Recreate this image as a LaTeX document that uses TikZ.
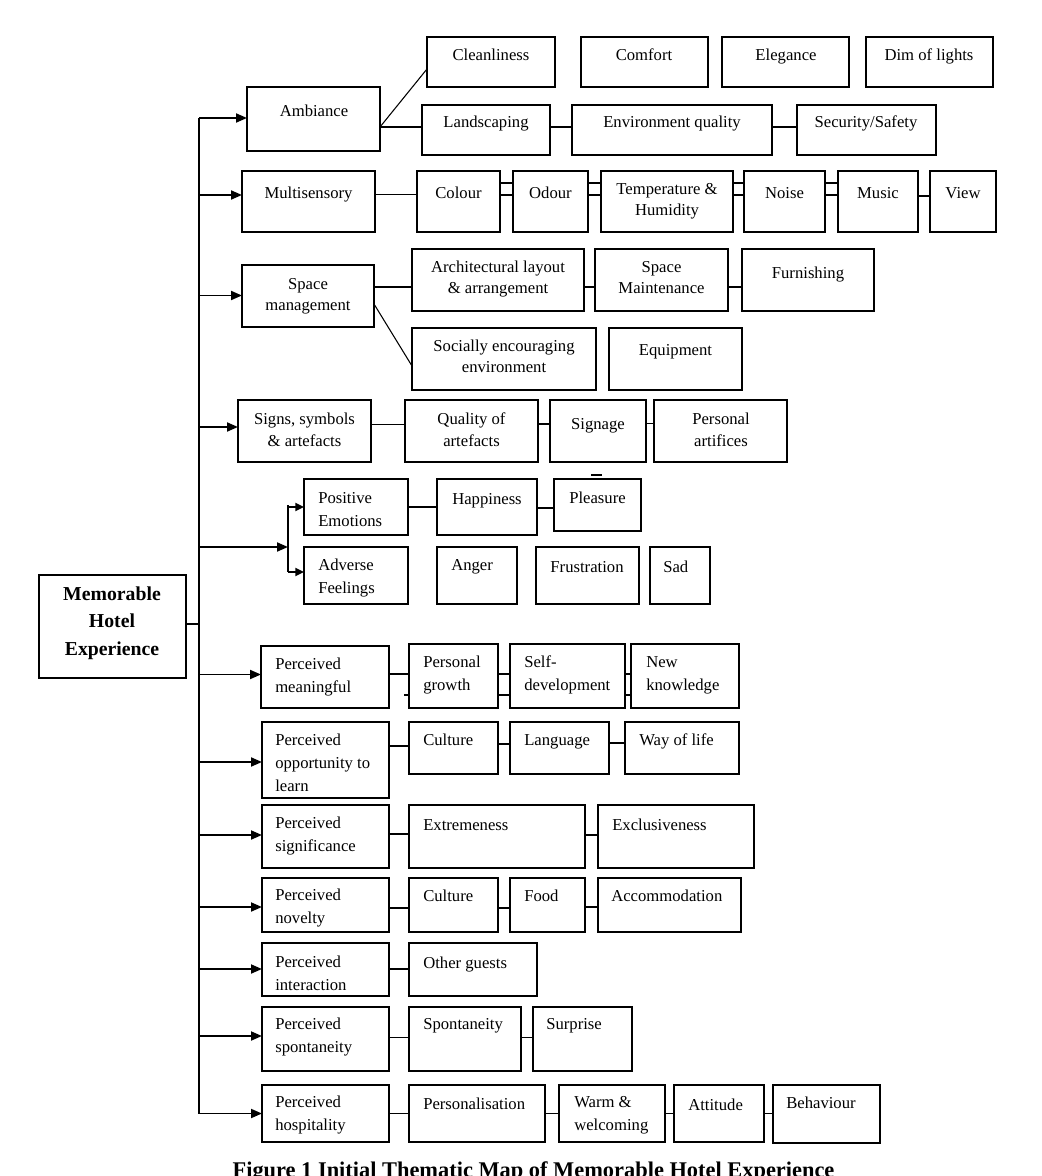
\documentclass[tikz,border=0pt]{standalone}
\usepackage{fontspec}
\setmainfont{Liberation Serif}
\usetikzlibrary{arrows.meta,fit}
\newcommand{\bx}[5]{\node[box, fit={(#2,#3) (#4,#5)}] (#1) {};}
\newcommand{\fsz}{\fontsize{12.5}{16}\selectfont}
\newcommand{\fsl}{\fontsize{12.5}{17.2}\selectfont}
\begin{document}
\begin{tikzpicture}[x=0.75pt,y=-0.75pt,
  box/.style={draw, line width=0.8pt, inner sep=0pt, outer sep=0pt},
  tc/.style={font=\fsz, inner sep=0pt, anchor=base, align=center},
  tl/.style={font=\fsl, inner sep=0pt, anchor=base west, align=left},
  conn/.style={line width=0.8pt},
  connb/.style={line width=1.4pt},
  trunk/.style={line width=1.4pt},
  arr/.style={line width=1.4pt, -{Triangle[length=8.25pt,width=6.75pt]}},
  arrs/.style={line width=1.4pt, -{Triangle[length=6.5pt,width=6pt]}}]
\fill[white] (0,0) rectangle (1041,1176);
\useasboundingbox (0,0) rectangle (1041,1176);

% ---------- boxes ----------
\bx{mhe}{39}{575}{186}{678}
\bx{amb}{247}{87}{380}{151}
\bx{clean}{427}{37}{555}{87}
\bx{comfort}{581}{37}{708}{87}
\bx{eleg}{722}{37}{849}{87}
\bx{dim}{866}{37}{993}{87}
\bx{land}{422}{105}{550}{155}
\bx{env}{572}{105}{772}{155}
\bx{sec}{797}{105}{936}{155}

\bx{multi}{242}{171}{375}{232}
\bx{colour}{417}{171}{500}{232}
\bx{odour}{513}{171}{588}{232}
\bx{temp}{601}{171}{733}{232}
\bx{noise}{744}{171}{825}{232}
\bx{music}{838}{171}{918}{232}
\bx{view}{930}{171}{996}{232}

\bx{space}{242}{265}{374}{327}
\bx{arch}{412}{249}{584}{311}
\bx{smaint}{595}{249}{728}{311}
\bx{furn}{742}{249}{874}{311}
\bx{social}{412}{328}{596}{390}
\bx{equip}{609}{328}{742}{390}

\bx{signs}{238}{400}{371}{462}
\bx{quality}{405}{400}{538}{462}
\bx{signage}{550}{400}{646}{462}
\bx{partif}{654}{400}{787}{462}

\bx{posemo}{304}{479}{408}{535}
\bx{adverse}{304}{547}{408}{604}
\bx{happy}{437}{479}{537}{535}
\bx{pleas}{554}{479}{641}{531}
\bx{anger}{437}{547}{517}{604}
\bx{frust}{536}{547}{639}{604}
\bx{sad}{650}{547}{710}{604}

\bx{pmean}{261}{646}{389}{708}
\bx{pgrowth}{409}{644}{498}{708}
\bx{selfdev}{510}{644}{625}{708}
\bx{newk}{631}{644}{739}{708}

\bx{popp}{262}{722}{389}{798}
\bx{cultA}{409}{722}{498}{774}
\bx{lang}{510}{722}{609}{774}
\bx{way}{625}{722}{739}{774}

\bx{psig}{262}{805}{389}{868}
\bx{extr}{409}{805}{585}{868}
\bx{excl}{598}{805}{754}{868}

\bx{pnov}{262}{878}{389}{932}
\bx{cultB}{409}{878}{498}{932}
\bx{food}{510}{878}{585}{932}
\bx{accom}{598}{878}{741}{932}

\bx{pint}{262}{943}{389}{996}
\bx{other}{409}{943}{537}{996}

\bx{pspon}{262}{1007}{389}{1071}
\bx{spont}{409}{1007}{521}{1071}
\bx{surp}{533}{1007}{632}{1071}

\bx{phosp}{262}{1085}{389}{1142}
\bx{pers}{409}{1085}{545}{1142}
\bx{warm}{559}{1085}{665}{1142}
\bx{att}{674}{1085}{764}{1142}
\bx{beh}{773}{1085}{880}{1143}

% ---------- texts (base = baseline of the last line) ----------
\node[font=\bfseries\fontsize{14.8}{20.6}\selectfont, inner sep=0pt, anchor=base, align=center] (tmhe) at (112,655) {Memorable\\Hotel\\Experience};
\node[tc] (tamb) at (314,117) {Ambiance};
\node[tc] (tclean) at (491,61) {Cleanliness};
\node[tc] (tcomfort) at (644,61) {Comfort};
\node[tc] (telev) at (786,61) {Elegance};
\node[tc] (tdim) at (929,61) {Dim of lights};
\node[tc] (tland) at (486,128) {Landscaping};
\node[tc] (tenv) at (672,128) {Environment quality};
\node[tc] (tsec) at (866,128) {Security/Safety};

\node[tc] (tmulti) at (308.5,199) {Multisensory};
\node[tc] (tcolour) at (458.5,199) {Colour};
\node[tc] (todour) at (550.5,199) {Odour};
\node[tc] (ttemp) at (667,216) {Temperature \&\\Humidity};
\node[tc] (tnoise) at (784.5,199) {Noise};
\node[tc] (tmusic) at (878,199) {Music};
\node[tc] (tview) at (963,199) {View};

\node[tc] (tspace) at (308,311) {Space\\management};
\node[tc] (tarch) at (498,294) {Architectural layout\\\& arrangement};
\node[tc] (tsmaint) at (661.5,294) {Space\\Maintenance};
\node[tc] (tfurn) at (808,279) {Furnishing};
\node[tc] (tsocial) at (504,373) {Socially encouraging\\environment};
\node[tc] (tequip) at (675.5,356) {Equipment};

\node[tc] (tsigns) at (304.5,446) {Signs, symbols\\\& artefacts};
\node[tc] (tquality) at (471.5,446) {Quality of\\artefacts};
\node[tc] (tsignage) at (598,429) {Signage};
\node[tc] (tpartif) at (721,446) {Personal\\artifices};

\node[tl] (tposemo) at (318,526) {Positive\\Emotions};
\node[tl] (tadverse) at (318,593) {Adverse\\Feelings};
\node[tc] (thappy) at (487,504) {Happiness};
\node[tc] (tpleas) at (597.5,503) {Pleasure};
\node[tl] (tanger) at (451,570) {Anger};
\node[tc] (tfrust) at (587,572) {Frustration};
\node[tl] (tsad) at (663,572) {Sad};

\node[tl] (tpmean) at (275,692) {Perceived\\meaningful};
\node[tl] (tpgrowth) at (423,690) {Personal\\growth};
\node[tl] (tselfdev) at (524,690) {Self-\\development};
\node[tl] (tnewk) at (646,690) {New\\knowledge};

\node[tl] (tpopp) at (275,791) {Perceived\\opportunity to\\learn};
\node[tl] (tcultA) at (423,745) {Culture};
\node[tl] (tlang) at (524,745) {Language};
\node[tl] (tway) at (639,745) {Way of life};

\node[tl] (tpsig) at (275,851) {Perceived\\significance};
\node[tl] (textr) at (423,830) {Extremeness};
\node[tl] (texcl) at (612,830) {Exclusiveness};

\node[tl] (tpnov) at (275,923) {Perceived\\novelty};
\node[tl] (tcultB) at (423,901) {Culture};
\node[tl] (tfood) at (524,901) {Food};
\node[tl] (taccom) at (611,901) {Accommodation};

\node[tl] (tpint) at (275,990) {Perceived\\interaction};
\node[tl] (tother) at (423,968) {Other guests};

\node[tl] (tpspon) at (275,1052) {Perceived\\spontaneity};
\node[tl] (tspont) at (423,1029) {Spontaneity};
\node[tl] (tsurp) at (546,1029) {Surprise};

\node[tl] (tphosp) at (275,1130) {Perceived\\hospitality};
\node[tl] (tpers) at (423,1109) {Personalisation};
\node[tl] (twarm) at (574,1130) {Warm \&\\welcoming};
\node[tl] (tatt) at (688,1110) {Attitude};
\node[tl] (tbeh) at (786,1108) {Behaviour};

% caption (cut by the page edge, as in the reference)
\node[font=\bfseries\fontsize{16.8}{20}\selectfont, inner sep=0pt, anchor=base] (caption) at (533.5,1177) {Figure 1 Initial Thematic Map of Memorable Hotel Experience};

% ---------- trunk and arrows ----------
\coordinate (trunktop) at (199,118);
\coordinate (trunkbot) at (199,1113.5);
\draw[trunk] (trunktop) -- (trunkbot);
\draw[conn] (mhe.east|-0,624) -- (trunktop|-0,624);
\draw[arr] (trunktop) -- (amb.west|-trunktop);
\draw[arr] (trunktop|-0,195) -- (multi.west|-0,195);
\draw[arr] (trunktop|-0,295.5) -- (space.west|-0,295.5);
\draw[arr] (trunktop|-0,427) -- (signs.west|-0,427);
\coordinate (ebartop) at (288,505);
\coordinate (ebarbot) at (288,572);
\draw[trunk] (ebartop) -- (ebarbot);
\draw[arr] (trunktop|-0,547) -- (ebartop|-0,547);
\draw[arrs] (ebartop|-0,507) -- (posemo.west|-0,507);
\draw[arrs] (ebartop|-0,572) -- (adverse.west|-0,572);
\draw[arr] (trunktop|-0,674.5) -- (pmean.west|-0,674.5);
\draw[arr] (trunktop|-0,762) -- (popp.west|-0,762);
\draw[arr] (trunktop|-0,835) -- (psig.west|-0,835);
\draw[arr] (trunktop|-0,907) -- (pnov.west|-0,907);
\draw[arr] (trunktop|-0,969) -- (pint.west|-0,969);
\draw[arr] (trunktop|-0,1036) -- (pspon.west|-0,1036);
\draw[arr] (trunkbot) -- (phosp.west|-trunkbot);

% ---------- connectors ----------
\draw[conn] (amb.east|-0,127) -- (clean.west|-0,69);
\draw[connb] (amb.east|-0,127) -- (land.west|-0,127);
\draw[connb] (land.east|-0,127) -- (env.west|-0,127);
\draw[connb] (env.east|-0,127) -- (sec.west|-0,127);

\draw[conn] (multi.east|-0,194.5) -- (colour.west|-0,194.5);
\foreach \a/\b in {colour/odour, odour/temp, temp/noise, noise/music}{
  \draw[connb] (\a.east|-0,183) -- (\b.west|-0,183);
  \draw[conn] (\a.east|-0,195) -- (\b.west|-0,195);
}
\draw[conn] (music.east|-0,196) -- (view.west|-0,196);

\draw[connb] (space.east|-0,287) -- (arch.west|-0,287);
\draw[connb] (arch.east|-0,287) -- (smaint.west|-0,287);
\draw[connb] (smaint.east|-0,287) -- (furn.west|-0,287);
\draw[conn] (space.east|-0,304) -- (social.west|-0,366);

\draw[conn] (signs.east|-0,424.5) -- (quality.west|-0,424.5);
\draw[conn] (quality.east|-0,424) -- (signage.west|-0,424);
\draw[conn] (signage.east|-0,423.5) -- (partif.west|-0,423.5);
\draw[line width=1.6pt] (591,475) -- (602,475);

\draw[conn] (posemo.east|-0,507) -- (happy.west|-0,507);
\draw[conn] (happy.east|-0,508) -- (pleas.west|-0,508);

\draw[connb] (pmean.east|-0,674) -- (pgrowth.west|-0,674);
\draw[connb] (pgrowth.east|-0,674) -- (selfdev.west|-0,674);
\draw[conn] (pgrowth.east|-0,695) -- (selfdev.west|-0,695);
\draw[connb] (selfdev.east|-0,674) -- (newk.west|-0,674);
\draw[conn] (selfdev.east|-0,695) -- (newk.west|-0,695);
\draw[conn] (404,695) -- (409,695);

\draw[conn] (popp.east|-0,746) -- (cultA.west|-0,746);
\draw[conn] (cultA.east|-0,744) -- (lang.west|-0,744);
\draw[conn] (lang.east|-0,743) -- (way.west|-0,743);

\draw[conn] (psig.east|-0,834) -- (extr.west|-0,834);
\draw[conn] (extr.east|-0,835) -- (excl.west|-0,835);

\draw[conn] (pnov.east|-0,908) -- (cultB.west|-0,908);
\draw[conn] (cultB.east|-0,908) -- (food.west|-0,908);
\draw[conn] (food.east|-0,907) -- (accom.west|-0,907);

\draw[connb] (pint.east|-0,969) -- (other.west|-0,969);

\draw[connb] (pspon.east|-0,1037.5) -- (spont.west|-0,1037.5);
\draw[connb] (spont.east|-0,1037.5) -- (surp.west|-0,1037.5);

\draw[connb] (phosp.east|-0,1113.5) -- (pers.west|-0,1113.5);
\draw[connb] (pers.east|-0,1113.5) -- (warm.west|-0,1113.5);
\draw[connb] (warm.east|-0,1113.5) -- (att.west|-0,1113.5);
\draw[connb] (att.east|-0,1113.5) -- (beh.west|-0,1113.5);
\end{tikzpicture}
\end{document}
